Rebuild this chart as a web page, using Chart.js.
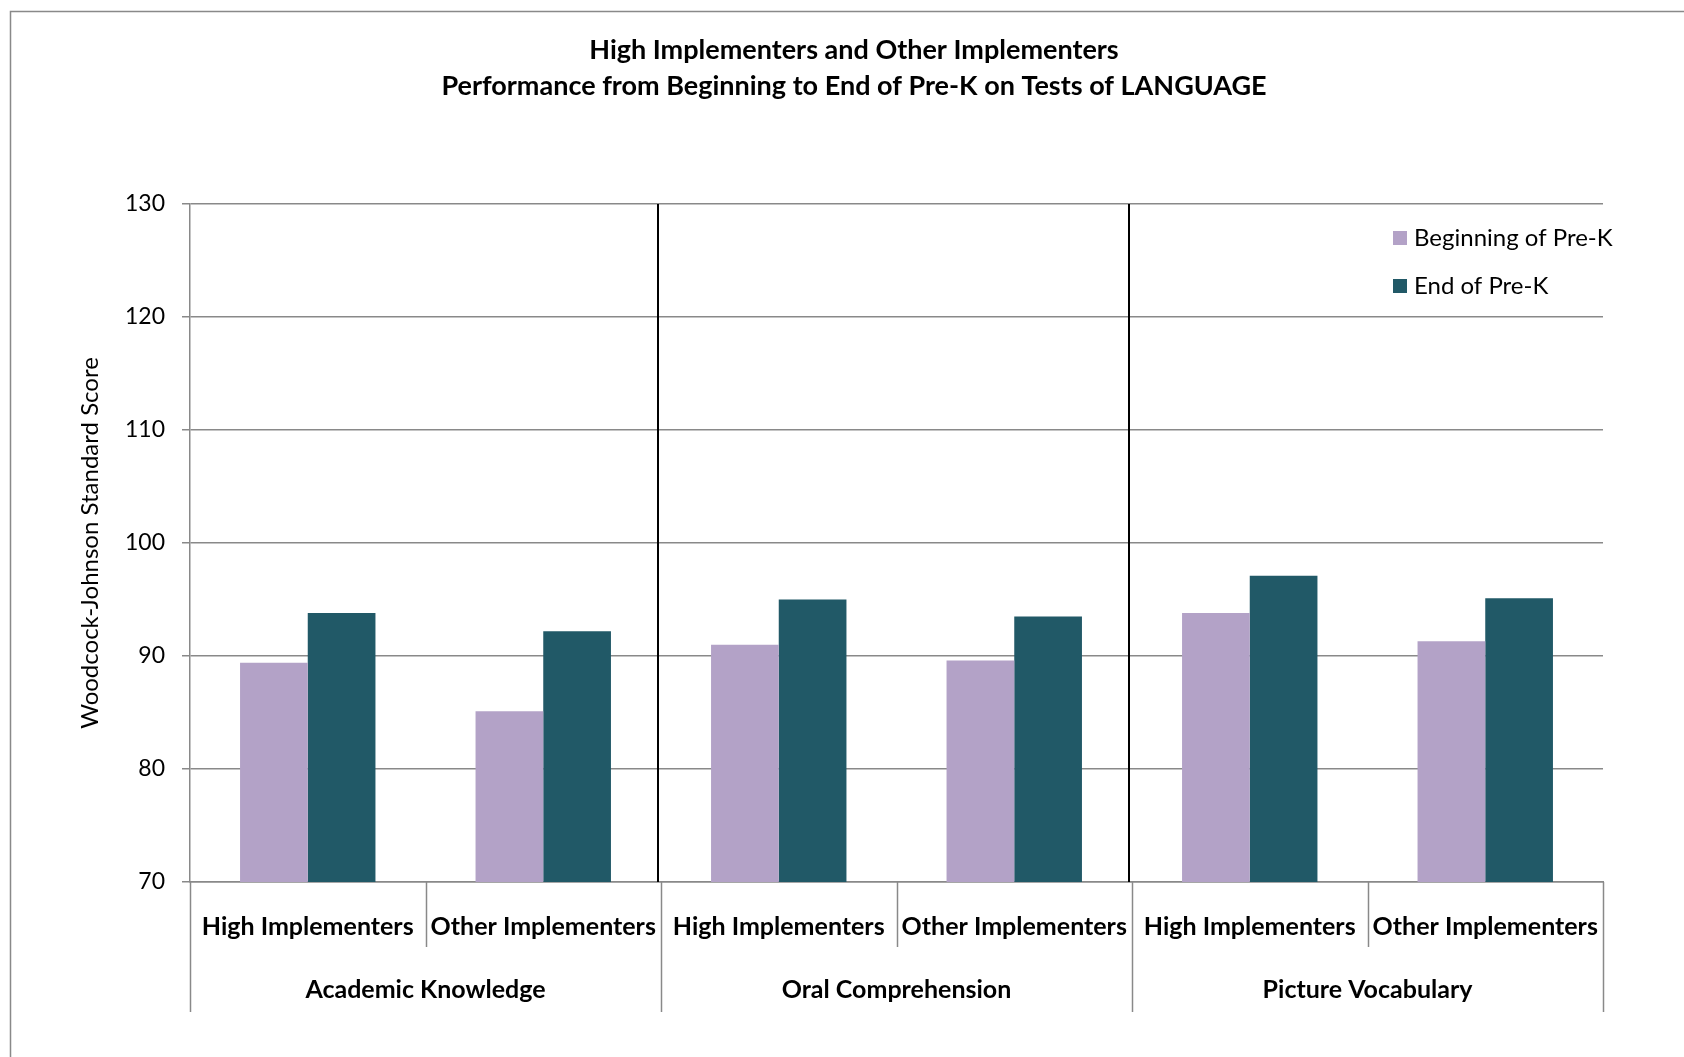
<!DOCTYPE html>
<html>
<head>
<meta charset="utf-8">
<script src="https://cdn.jsdelivr.net/npm/chart.js@4.4.1/dist/chart.umd.min.js"></script>
<style>
  html, body { margin: 0; padding: 0; background: #fff; }
  #wrap { width: 1684px; height: 1057px; }
</style>
</head>
<body>
<div id="wrap"><canvas id="grafico" width="1684" height="1057"></canvas></div>
<script>
// dados
const titleLines = ['High Implementers and Other Implementers',
                    'Performance from Beginning to End of Pre-K on Tests of LANGUAGE'];
const groups = ['Academic Knowledge', 'Oral Comprehension', 'Picture Vocabulary'];
const subgroups = ['High Implementers', 'Other Implementers'];
const beginning = [89.4, 85.1, 91.0, 89.6, 93.8, 91.3];
const endPreK = [93.8, 92.2, 95.0, 93.5, 97.1, 95.1];
const yTicks = [70, 80, 90, 100, 110, 120, 130];

const categories = [];
groups.forEach(function () { subgroups.forEach(function (s) { categories.push(s); }); });

const cinza = '#898989';

// moldura, título, separadores, rótulos de grupo e legenda
const extras = {
  id: 'extras',
  beforeDraw(chart) {
    const c = chart.ctx;
    c.save();
    c.strokeStyle = cinza;
    c.lineWidth = 1.5;
    c.strokeRect(10.5, 11.5, 1800, 1200);
    c.fillStyle = '#000';
    c.font = 'bold 27px Lato';
    c.textAlign = 'center';
    c.textBaseline = 'middle';
    titleLines.forEach(function (t, i) { c.fillText(t, 854, 50 + i * 36); });
    c.restore();
  },
  afterDraw(chart) {
    const c = chart.ctx;
    const a = chart.chartArea;
    const n = subgroups.length;
    const step = (a.right - a.left) / categories.length;
    c.save();
    // marcas abaixo do eixo
    c.strokeStyle = cinza;
    c.lineWidth = 1.5;
    for (let i = 0; i <= categories.length; i++) {
      const px = Math.round(a.left + i * step) + 0.5;
      const len = (i % n === 0) ? 130 : 65;
      c.beginPath();
      c.moveTo(px, a.bottom);
      c.lineTo(px, a.bottom + len);
      c.stroke();
    }
    // separadores pretos
    c.strokeStyle = '#000';
    c.lineWidth = 2;
    for (let g = 1; g < groups.length; g++) {
      const px = Math.round(a.left + g * n * step) - 3;
      c.beginPath();
      c.moveTo(px, a.top);
      c.lineTo(px, a.bottom);
      c.stroke();
    }
    // rótulos dos grupos
    c.fillStyle = '#000';
    c.font = 'bold 25px Lato';
    c.textAlign = 'center';
    c.textBaseline = 'middle';
    groups.forEach(function (g, i) {
      c.fillText(g, a.left + (i * n + n / 2) * step, a.bottom + 108);
    });
    // legenda
    c.textAlign = 'left';
    c.font = '24px Lato';
    chart.data.datasets.forEach(function (ds, i) {
      const cy = 238 + i * 48;
      c.fillStyle = ds.backgroundColor;
      c.fillRect(1393, cy - 7, 14, 14);
      c.fillStyle = '#000';
      c.fillText(ds.label, 1414, cy);
    });
    c.restore();
  }
};

const ctx = document.getElementById('grafico').getContext('2d');
Chart.defaults.font.family = 'Lato';
Chart.defaults.color = '#000';

const chart = new Chart(ctx, {
  type: 'bar',
  data: {
    labels: categories,
    datasets: [
      { label: 'Beginning of Pre-K', data: beginning, backgroundColor: '#B3A2C7' },
      { label: 'End of Pre-K', data: endPreK, backgroundColor: '#215967' }
    ]
  },
  options: {
    responsive: false,
    animation: false,
    categoryPercentage: 0.575,
    barPercentage: 1.0,
    layout: { padding: { left: 76, right: 81, top: 204, bottom: 0 } },
    plugins: {
      legend: { display: false },
      tooltip: { enabled: false },
      title: { display: false }
    },
    scales: {
      y: {
        min: 70,
        max: 130,
        afterFit(s) { s.width = 114; },
        afterBuildTicks(s) { s.ticks = yTicks.map(function (v) { return { value: v }; }); },
        ticks: { font: { size: 23 }, padding: 17, color: '#000' },
        grid: { color: cinza, lineWidth: 1.5, tickLength: 8 },
        border: { color: cinza, width: 1.5 },
        title: {
          display: true,
          text: 'Woodcock-Johnson Standard Score',
          font: { size: 24 },
          color: '#000',
          padding: { top: 0, bottom: 0 }
        }
      },
      x: {
        afterFit(s) { s.height = 175; },
        grid: { display: false },
        border: { color: cinza, width: 1.5 },
        ticks: { font: { size: 25, weight: 'bold' }, padding: 22, autoSkip: false, maxRotation: 0, color: '#000' }
      }
    }
  },
  plugins: [extras]
});
</script>
</body>
</html>
